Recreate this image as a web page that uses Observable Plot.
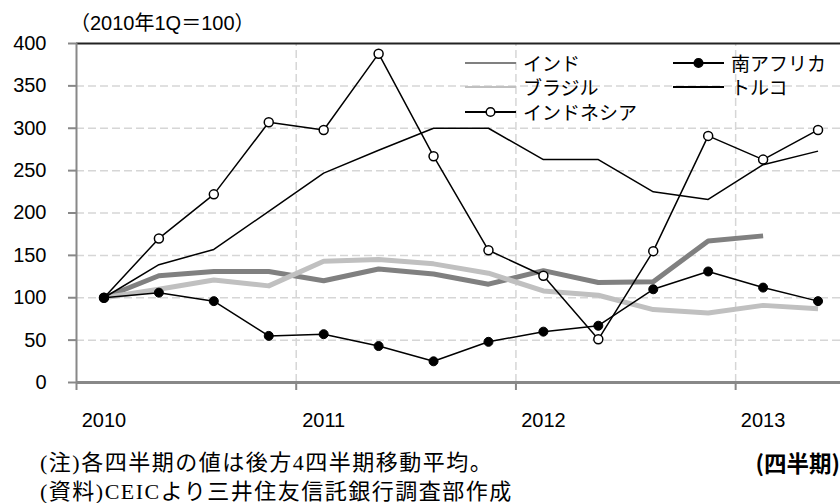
<!DOCTYPE html>
<html>
<head>
<meta charset="utf-8">
<script src="https://cdn.jsdelivr.net/npm/d3@7"></script>
<script src="https://cdn.jsdelivr.net/npm/@observablehq/plot@0.6"></script>
<style>
  html, body { margin: 0; padding: 0; background: #fff; }
  body { width: 840px; height: 503px; position: relative; overflow: hidden; }
  #title { position: absolute; z-index: 2; left: 70px; top: 12px; line-height: 22px; font-size: 20px; font-family: "Liberation Sans", "Noto Sans CJK JP", sans-serif; color: #000; white-space: nowrap; }
  #chart { position: absolute; z-index: 1; left: 0; top: 30px; }
  .legcol { position: absolute; z-index: 3; top: 51px; font-family: "Noto Sans CJK JP", sans-serif; font-size: 19px; color: #000; }
  .legitem { height: 24.3px; line-height: 20px; display: flex; align-items: center; white-space: nowrap; }
  .legitem span { line-height: 20px; }
  .legitem svg { width: 51px; height: 14px; margin-right: 7px; flex: none; }
  #notes { position: absolute; left: 40px; top: 448px; line-height: 29px; font-size: 22px; letter-spacing: 1.5px; font-family: "Liberation Serif", "DejaVu Serif", "Noto Sans CJK JP", serif; color: #000; white-space: nowrap; }
  #unit { position: absolute; right: 0; top: 448px; line-height: 29px; font-size: 22.5px; font-weight: bold; font-family: "Noto Sans CJK JP", sans-serif; color: #000; white-space: nowrap; }
</style>
</head>
<body>
<div id="title"></div>
<div id="chart"></div>
<div id="legend"></div>
<div id="notes"></div>
<div id="unit"></div>
<script>
// ---- data ----
const quarters = ["2010Q1","2010Q2","2010Q3","2010Q4","2011Q1","2011Q2","2011Q3","2011Q4",
                  "2012Q1","2012Q2","2012Q3","2012Q4","2013Q1","2013Q2"];
const years = ["2010","2011","2012","2013"];
const yTicks = [0,50,100,150,200,250,300,350,400];
const seriesNames = ["インド","ブラジル","インドネシア","南アフリカ","トルコ"];
const india       = [100,126,131,131,120,134,128,116,132,118,119,167,173];
const brazil      = [100,110,121,114,143,145,140,129,108,103,86,82,91,87];
const indonesia   = [100,170,222,307,298,388,267,156,126,51,155,291,263,298];
const southAfrica = [100,106,96,55,57,43,25,48,60,67,110,131,112,96];
const turkey      = [100,139,157,202,247,274,300,300,263,263,225,216,257,273];
const titleText = "（2010年1Q＝100）";
const noteLines = ["(注)各四半期の値は後方4四半期移動平均。", "(資料)CEICより三井住友信託銀行調査部作成"];
const unitText = "(四半期)";

// ---- styles ----
const styles = {
  "インド":       {stroke: "#808080", width: 5, marker: null},
  "ブラジル":     {stroke: "#c0c0c0", width: 5, marker: null},
  "インドネシア": {stroke: "#000", width: 1.5, marker: "open"},
  "南アフリカ":   {stroke: "#000", width: 1.5, marker: "filled"},
  "トルコ":       {stroke: "#000", width: 1.5, marker: null}
};
const valuesBySeries = {"インド": india, "ブラジル": brazil, "インドネシア": indonesia, "南アフリカ": southAfrica, "トルコ": turkey};

// table: quarter position = band centre (index + 0.5) on a linear quarter scale
const rows = [];
for (const s of seriesNames) {
  valuesBySeries[s].forEach((v, i) => rows.push({series: s, quarter: quarters[i], q: quarters.indexOf(quarters[i]) + 0.5, value: v}));
}
const yearPos = years.map(y => ({label: y, q: quarters.indexOf(y + "Q1") + 0.5}));
const yearBounds = years.map(y => quarters.indexOf(y + "Q1"));

const W = 840, H = 410;
const marks = [
  Plot.ruleY(yTicks.filter(d => d > 0 && d < 400), {stroke: "#d6d6d6", strokeWidth: 1.5, strokeDasharray: "8,4"}),
  Plot.ruleX(yearBounds.filter(d => d > 0), {y1: 0, y2: 400, stroke: "#d6d6d6", strokeWidth: 1.5, strokeDasharray: "8,4"}),
  Plot.ruleY([400], {stroke: "#222", strokeWidth: 2}),
  Plot.ruleX([0], {y1: 0, y2: 400, stroke: "#888", strokeWidth: 2}),
  Plot.ruleY([0], {stroke: "#888", strokeWidth: 3}),
  Plot.axisY({ticks: yTicks, label: null, tickSize: 8, tickPadding: 22, stroke: "#888", strokeWidth: 2, fill: "#000", fontSize: 20, tickFormat: d => String(d)}),
  Plot.axisX({ticks: yearBounds, label: null, tickSize: 8, tickFormat: () => "", stroke: "#888", strokeWidth: 2}),
  Plot.text(yearPos, {x: "q", text: "label", frameAnchor: "bottom", dy: 38, lineAnchor: "middle", fontSize: 20, fill: "#000"})
];
for (const s of seriesNames) {
  const st = styles[s];
  const data = rows.filter(r => r.series === s);
  marks.push(Plot.line(data, {x: "q", y: "value", stroke: st.stroke, strokeWidth: st.width, strokeLinejoin: "round", strokeLinecap: "butt"}));
  if (st.marker === "open") marks.push(Plot.dot(data, {x: "q", y: "value", r: 4.5, fill: "#fff", stroke: "#000", strokeWidth: 1.5}));
  if (st.marker === "filled") marks.push(Plot.dot(data, {x: "q", y: "value", r: 4.5, fill: "#000", stroke: "#000", strokeWidth: 1}));
}

const chart = Plot.plot({
  width: W, height: H,
  marginLeft: 76, marginRight: 0, marginTop: 13, marginBottom: 58,
  style: {fontFamily: "'Liberation Sans', Arial, sans-serif", fontSize: "20px", color: "#000", background: "transparent", overflow: "visible"},
  x: {domain: [0, quarters.length], range: [76, 845], axis: null},
  y: {domain: [0, 400], axis: null},
  marks
});
document.getElementById("chart").appendChild(chart);

// ---- legend (HTML, two columns) ----
function swatch(s) {
  const st = styles[s];
  const ns = "http://www.w3.org/2000/svg";
  const svg = document.createElementNS(ns, "svg");
  svg.setAttribute("viewBox", "0 0 51 14");
  const ln = document.createElementNS(ns, "line");
  ln.setAttribute("x1", 0); ln.setAttribute("x2", 51); ln.setAttribute("y1", 7); ln.setAttribute("y2", 7);
  ln.setAttribute("stroke", st.stroke); ln.setAttribute("stroke-width", st.width > 2 ? 2 : 1.8);
  svg.appendChild(ln);
  if (st.marker) {
    const c = document.createElementNS(ns, "circle");
    c.setAttribute("cx", 25.5); c.setAttribute("cy", 7); c.setAttribute("r", 4.3);
    c.setAttribute("fill", st.marker === "open" ? "#fff" : "#000");
    c.setAttribute("stroke", "#000"); c.setAttribute("stroke-width", 1.5);
    svg.appendChild(c);
  }
  return svg;
}
const legendCols = [["インド","ブラジル","インドネシア"], ["南アフリカ","トルコ"]];
const colLeft = [465, 673];
const legend = document.getElementById("legend");
legendCols.forEach((col, ci) => {
  const div = document.createElement("div");
  div.className = "legcol";
  div.style.left = colLeft[ci] + "px";
  for (const s of col) {
    const item = document.createElement("div");
    item.className = "legitem";
    item.appendChild(swatch(s));
    const t = document.createElement("span");
    t.textContent = s;
    item.appendChild(t);
    div.appendChild(item);
  }
  legend.appendChild(div);
});

document.getElementById("title").textContent = titleText;
document.getElementById("notes").innerHTML = noteLines.map(l => `<div>${l}</div>`).join("");
document.getElementById("unit").textContent = unitText;
</script>
</body>
</html>
